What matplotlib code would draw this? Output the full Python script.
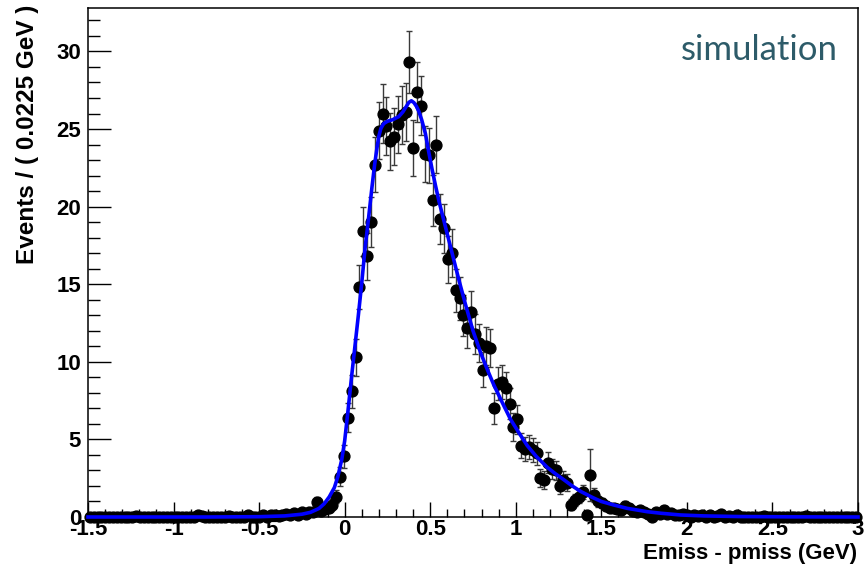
import numpy as np
import matplotlib
matplotlib.use("Agg")
import matplotlib.pyplot as plt
from matplotlib.ticker import MultipleLocator

# binning: 200 bins of 0.0225 GeV from -1.5 to 3
bin_lo, bin_hi, n_bins = -1.5, 3.0, 200

# bin contents (weighted events)
counts = [
    0, 0, 0, 0, 0, 0, 0, 0, 0, 0,
    0, 0, 0.05, 0, 0, 0, 0, 0, 0, 0,
    0, 0, 0, 0, 0, 0, 0, 0, 0.1, 0.05,
    0, 0, 0, 0, 0, 0, 0.05, 0, 0, 0,
    0, 0.1, 0, 0, 0, 0.1, 0, 0.1, 0.15, 0.05,
    0.1, 0.2, 0.1,
    0.25, 0.15, 0.3, 0.2, 0.35, 0.3, 0.95, 0.4, 0.5, 0.6,
    0.8, 1.3, 2.6, 3.9, 6.4, 8.1, 10.3, 14.8, 18.4, 16.8,
    19.0, 22.7, 24.9, 26.0, 25.2, 24.2, 24.5, 25.3, 25.9, 26.1,
    29.3, 23.8, 27.4, 26.5, 23.4, 23.3, 20.4, 24.0, 19.2, 18.6,
    16.6, 17.0, 14.6, 14.1, 13.0, 12.2, 13.2, 11.8, 11.2, 9.5,
    11.0, 10.9, 7.0, 8.6, 8.7, 8.3, 7.3, 5.8, 6.3, 4.6,
    4.4, 4.5, 4.3, 4.1, 2.5, 2.4, 3.5, 3.1, 3.0, 2.0,
    2.4, 2.2, 0.8, 1.1, 1.3, 1.6, 0.1, 2.7, 1.4, 1.0,
    0.9, 0.7, 0.6, 0.55, 0.5, 0.45, 0.7, 0.55, 0.4, 0.3,
    0.45, 0.3, 0.2, 0, 0.3, 0.2, 0.45, 0.2, 0.25, 0.1,
    0.15, 0.2, 0.1,
    0, 0.1, 0.05, 0.1, 0, 0.15, 0, 0.05, 0.2, 0,
    0.05, 0, 0.1, 0, 0, 0, 0, 0, 0, 0.05,
    0, 0, 0, 0, 0, 0, 0, 0, 0, 0,
    0.05, 0, 0, 0, 0, 0, 0, 0, 0, 0,
    0, 0, 0, 0,
]

# error on each bin
errors = [
    0, 0, 0, 0, 0, 0, 0, 0, 0, 0,
    0, 0, 0.05, 0, 0, 0, 0, 0, 0, 0,
    0, 0, 0, 0, 0, 0, 0, 0, 0.1, 0.05,
    0, 0, 0, 0, 0, 0, 0.05, 0, 0, 0,
    0, 0.1, 0, 0, 0, 0.1, 0, 0.1, 0.14, 0.05,
    0.1, 0.17, 0.1,
    0.18, 0.14, 0.2, 0.17, 0.22, 0.2, 0.36, 0.23, 0.26, 0.29,
    0.33, 0.42, 0.6, 0.73, 0.94, 1.05, 1.19, 1.42, 1.59, 1.52,
    1.61, 1.76, 1.85, 1.89, 1.86, 1.82, 1.83, 1.86, 1.88, 1.89,
    2.0, 1.8, 1.94, 1.9, 1.79, 1.79, 1.67, 1.81, 1.62, 1.6,
    1.51, 1.53, 1.41, 1.39, 1.33, 1.29, 1.34, 1.27, 1.24, 1.14,
    1.23, 1.22, 0.98, 1.08, 1.09, 1.07, 1.0, 0.89, 0.93, 0.79,
    0.78, 0.78, 0.77, 0.75, 0.59, 0.57, 0.69, 0.65, 0.64, 0.52,
    0.57, 0.55, 0.33, 0.39, 0.42, 0.47, 0.1, 1.7, 0.44, 0.37,
    0.35, 0.31, 0.29, 0.27, 0.26, 0.25, 0.31, 0.27, 0.23, 0.2,
    0.25, 0.2, 0.17, 0, 0.2, 0.17, 0.25, 0.17, 0.18, 0.1,
    0.14, 0.17, 0.1,
    0, 0.1, 0.05, 0.1, 0, 0.14, 0, 0.05, 0.17, 0,
    0.05, 0, 0.1, 0, 0, 0, 0, 0, 0, 0.05,
    0, 0, 0, 0, 0, 0, 0, 0, 0, 0,
    0.05, 0, 0, 0, 0, 0, 0, 0, 0, 0,
    0, 0, 0, 0,
]

# fitted pdf, sampled off the plot
fit_x = [-1.5, -0.8, -0.5, -0.35, -0.25, -0.2, -0.15, -0.12, -0.09, -0.06,
         -0.04, -0.017, 0.0, 0.02, 0.041, 0.06, 0.08, 0.1, 0.119, 0.14,
         0.16, 0.175, 0.189, 0.2, 0.212, 0.228, 0.25, 0.28, 0.316, 0.34,
         0.36, 0.375, 0.39, 0.405, 0.42, 0.433, 0.45, 0.472, 0.49, 0.511,
         0.53, 0.55, 0.589, 0.628, 0.667, 0.706, 0.75, 0.794, 0.83, 0.872,
         0.92, 0.969, 1.02, 1.067, 1.12, 1.184, 1.23, 1.281, 1.33, 1.379,
         1.45, 1.5, 1.574, 1.65, 1.769, 1.85, 1.964, 2.1, 2.3, 2.6, 3.0]
fit_y = [0.0, 0.0, 0.02, 0.07, 0.18, 0.3, 0.55, 0.85, 1.3, 1.9,
         2.6, 3.7, 4.9, 6.9, 9.1, 11.0, 13.0, 15.1, 17.3, 19.3,
         21.3, 22.7, 23.8, 24.55, 25.05, 25.35, 25.5, 25.6, 25.8, 26.1,
         26.45, 26.72, 26.82, 26.7, 26.45, 26.15, 25.6, 24.7, 23.6, 22.4,
         21.4, 20.4, 18.7, 17.0, 15.3, 13.7, 12.0, 10.6, 9.6, 8.5,
         7.4, 6.3, 5.4, 4.6, 3.9, 3.2, 2.8, 2.4, 2.0, 1.65,
         1.25, 1.0, 0.77, 0.56, 0.34, 0.24, 0.13, 0.07, 0.03, 0.01, 0.0]

edges = np.linspace(bin_lo, bin_hi, n_bins + 1)
centers = 0.5 * (edges[:-1] + edges[1:])

bold = {"family": "Liberation Sans", "weight": "bold"}

fig = plt.figure(figsize=(8.67, 5.73), dpi=100)
ax = fig.add_axes([88 / 867, 1 - 517 / 573, 770 / 867, 509 / 573])

ax.errorbar(centers, counts, yerr=errors, fmt="none", ecolor="#3a3a3a",
            elinewidth=1.0, capsize=2.2, capthick=1.0, zorder=2, clip_on=False)
ax.plot(centers, counts, "o", color="black", ms=7.8, zorder=3, clip_on=False)
ax.plot(fit_x, fit_y, "-", color="#0000ff", lw=2.6, zorder=4, clip_on=False,
        solid_joinstyle="round")

ax.set_xlim(-1.5, 3.0)
ax.set_ylim(0, 32.8)

ax.xaxis.set_major_locator(MultipleLocator(0.5))
ax.xaxis.set_minor_locator(MultipleLocator(0.1))
ax.yaxis.set_major_locator(MultipleLocator(5))
ax.yaxis.set_minor_locator(MultipleLocator(1))
ax.tick_params(axis="x", which="major", direction="in", length=10.8, width=1, pad=1.5)
ax.tick_params(axis="x", which="minor", direction="in", length=5.6, width=1)
ax.tick_params(axis="y", which="major", direction="in", length=16.5, width=1, pad=5)
ax.tick_params(axis="y", which="minor", direction="in", length=8.3, width=1)
ax.set_xticklabels([f"{v:g}" for v in ax.get_xticks()], **bold, fontsize=16)
ax.set_yticklabels([f"{v:g}" for v in ax.get_yticks()], **bold, fontsize=16)
for s in ax.spines.values():
    s.set_linewidth(1.1)

fig.text(857 / 867, 1 - 553 / 573, "Emiss - pmiss (GeV)", ha="right", va="center",
         fontsize=16, **bold)
fig.text(28 / 867, 1 - 5 / 573, "Events / ( 0.0225 GeV )", rotation=90,
         ha="center", va="top", fontsize=17.5, **bold)
fig.text(838 / 867, 1 - 50 / 573, "simulation", ha="right", va="center",
         fontsize=25, color="#2d5b69", family="Lato", fontweight="normal")

fig.savefig("out.png", dpi=100)
